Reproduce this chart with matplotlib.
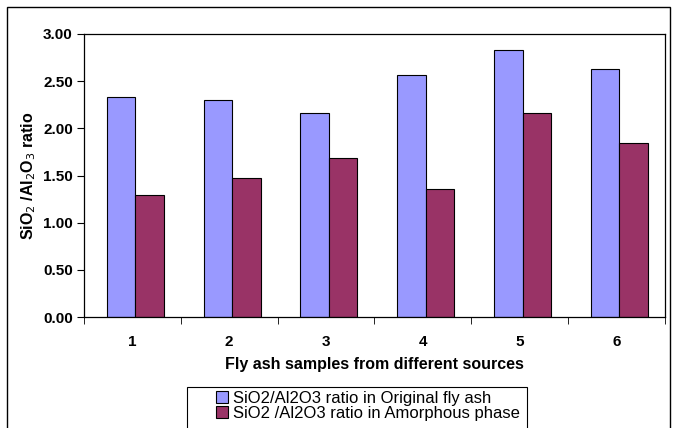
import matplotlib.pyplot as plt
import numpy as np
from matplotlib.patches import Rectangle

plt.rcParams['font.family'] = ['Liberation Sans', 'DejaVu Sans']

# data
samples = ['1', '2', '3', '4', '5', '6']
original = [2.33, 2.30, 2.16, 2.56, 2.83, 2.63]
amorphous = [1.29, 1.47, 1.69, 1.36, 2.16, 1.84]

fig = plt.figure(figsize=(6.75, 4.28), dpi=100)
ax = fig.add_axes([0.1244, 0.2593, 0.985 - 0.1244, 0.9206 - 0.2593])

x = np.arange(len(samples))
w = 0.295
b1 = ax.bar(x - w / 2 + 0.03, original, w, color='#9999FF', edgecolor='black', linewidth=0.8,
            label='SiO2/Al2O3 ratio in Original fly ash')
b2 = ax.bar(x + w / 2 + 0.03, amorphous, w, color='#993366', edgecolor='black', linewidth=0.8,
            label='SiO2 /Al2O3 ratio in Amorphous phase')

ax.set_xlim(-0.5, 5.5)
ax.set_ylim(0, 3)
ax.set_yticks(np.arange(0, 3.01, 0.5))
ax.set_yticklabels(['%.2f' % v for v in np.arange(0, 3.01, 0.5)], fontsize=11, fontweight='bold')
ax.set_xticks(x)
ax.set_xticklabels(samples, fontsize=11, fontweight='bold')
ax.tick_params(axis='x', length=0, pad=13)
ax.set_xticks(np.arange(-0.5, 5.6, 1), minor=True)
ax.tick_params(axis='x', which='minor', length=5, direction='out')
ax.tick_params(axis='y', length=5, direction='out', pad=3)
for s in ax.spines.values():
    s.set_linewidth(0.9)

ax.set_xlabel('Fly ash samples from different sources', fontsize=11.5, fontweight='bold', labelpad=6)
ax.set_ylabel('SiO$_2$ /Al$_2$O$_3$ ratio', fontsize=11.5, fontweight='bold', labelpad=4)

leg = ax.legend(loc='upper left', bbox_to_anchor=(216 / 675, 1 - 391 / 428), bbox_transform=fig.transFigure,
                fontsize=12, frameon=False, handlelength=0.72, handleheight=0.72,
                handletextpad=0.3, borderpad=0, labelspacing=0.0, borderaxespad=0)

# legend box and outer chart border
fig.patches.append(Rectangle((187 / 675, -0.01), 340 / 675, 1 - 387 / 428 + 0.01, transform=fig.transFigure,
                             fill=False, edgecolor='black', linewidth=0.8))
fig.patches.append(Rectangle((7 / 675, -0.01), 663 / 675, 1 - 7 / 428 + 0.01, transform=fig.transFigure,
                             fill=False, edgecolor='black', linewidth=1))

plt.savefig('out.png', dpi=100)
plt.close()
